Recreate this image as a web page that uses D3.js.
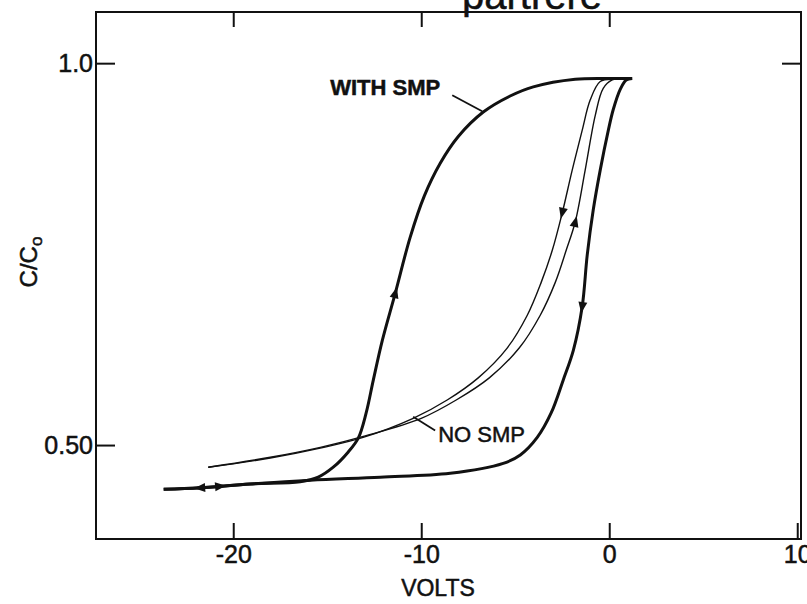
<!DOCTYPE html>
<html>
<head>
<meta charset="utf-8">
<script src="https://cdn.jsdelivr.net/npm/d3@7"></script>
<style>
  body { margin: 0; background: #fff; }
  text { font-family: "Liberation Sans", Arial, sans-serif; fill: #111; stroke: #111; stroke-width: 0.5px; }
</style>
</head>
<body>
<div id="chart"></div>
<script>
/* global d3 */

// Tick values and labels
const xTicks = [-20, -10, 0, 10]
const xTopTicks = [-20, -10, 0]
const yTicks = [0.5, 1.0]
const yTickLabels = ['0.50', '1.0']

// C/Co vs volts, [volts, C/Co], in sweep order
const withSmpDown = [[1.22, 0.980], [0.90, 0.978], [0.59, 0.966], [0.21, 0.939], [-0.05, 0.912],
  [-0.48, 0.860], [-0.85, 0.808], [-1.17, 0.749], [-1.44, 0.681], [-1.91, 0.624], [-2.45, 0.585],
  [-3.09, 0.542], [-3.83, 0.510], [-4.73, 0.487], [-5.64, 0.476], [-8.46, 0.463], [-12.18, 0.458],
  [-15.9, 0.454], [-19.1, 0.449], [-21.76, 0.444], [-23.7, 0.442]]
const withSmpUp = [[-23.7, 0.442], [-21.76, 0.444], [-19.1, 0.449], [-16.44, 0.452], [-15.48, 0.458],
  [-14.68, 0.471], [-13.88, 0.491], [-13.35, 0.509], [-12.93, 0.542], [-12.55, 0.585], [-12.07, 0.637],
  [-11.38, 0.699], [-10.59, 0.772], [-9.84, 0.826], [-8.99, 0.869], [-8.03, 0.904], [-6.70, 0.936],
  [-5.27, 0.957], [-4.04, 0.969], [-1.81, 0.979], [0.05, 0.980], [1.22, 0.980]]
const noSmpDown = [[0.16, 0.979], [-0.48, 0.976], [-1.01, 0.952], [-1.44, 0.912], [-1.97, 0.860],
  [-2.50, 0.804], [-3.03, 0.755], [-3.62, 0.713], [-4.36, 0.670], [-5.43, 0.627], [-6.97, 0.588],
  [-8.62, 0.559], [-10.43, 0.535], [-13.09, 0.510], [-15.37, 0.496], [-18.03, 0.483], [-21.33, 0.471]]
const noSmpUp = [[-21.33, 0.471], [-18.03, 0.484], [-15.37, 0.497], [-12.98, 0.512], [-10.0, 0.535],
  [-8.14, 0.559], [-6.38, 0.588], [-4.79, 0.627], [-3.67, 0.670], [-2.87, 0.713], [-2.29, 0.755],
  [-1.81, 0.792], [-1.28, 0.860], [-0.74, 0.932], [-0.32, 0.967], [0.16, 0.978], [0.69, 0.980]]

// Canvas
const width = 807,
  height = 604,
  plot = { left: 96, right: 801, top: 12, bottom: 539 }

let svg = d3.select('#chart')
  .append('svg')
  .attr('width', width)
  .attr('height', height)
  .style('background', '#fff')

const x = d3.scaleLinear().domain([-27.3, 10.2]).range([plot.left, plot.right])
const y = d3.scaleLinear().domain([0.377, 1.067]).range([plot.bottom, plot.top])

// cut-off heading from the scanned page
svg.append('text')
  .attr('x', 532).attr('y', 9)
  .attr('text-anchor', 'middle')
  .style('font-size', '40px')
  .text('partrere')

// Frame
svg.append('rect')
  .attr('x', plot.left).attr('y', plot.top)
  .attr('width', plot.right - plot.left).attr('height', plot.bottom - plot.top)
  .attr('fill', 'none').attr('stroke', '#111').attr('stroke-width', 2)

// Axes (inward ticks)
let xAxis = svg.append('g')
  .attr('transform', `translate(0,${plot.bottom})`)
  .call(d3.axisBottom(x).tickValues(xTicks).tickSizeInner(-16).tickSizeOuter(0)
    .tickPadding(6).tickFormat(d => String(d)))
xAxis.selectAll('text').style('font-size', '25px')

let topAxis = svg.append('g')
  .attr('transform', `translate(0,${plot.top})`)
  .call(d3.axisTop(x).tickValues(xTopTicks).tickSizeInner(-15).tickSizeOuter(0).tickFormat(''))

let yAxis = svg.append('g')
  .attr('transform', `translate(${plot.left},0)`)
  .call(d3.axisLeft(y).tickValues(yTicks).tickSizeInner(-19).tickSizeOuter(0)
    .tickPadding(3).tickFormat((d, i) => yTickLabels[i]))
yAxis.selectAll('text').style('font-size', '25px')

let rightAxis = svg.append('g')
  .attr('transform', `translate(${plot.right},0)`)
  .call(d3.axisRight(y).tickValues([1.0]).tickSizeInner(-19).tickSizeOuter(0).tickFormat(''))

;[xAxis, topAxis, yAxis, rightAxis].forEach(g => {
  g.select('.domain').remove()
  g.selectAll('line').attr('stroke', '#111').attr('stroke-width', 2)
  g.selectAll('text').attr('fill', '#111')
})

// Axis titles
svg.append('text')
  .attr('x', 438).attr('y', 596)
  .attr('text-anchor', 'middle')
  .style('font-size', '23px')
  .text('VOLTS')

let yTitle = svg.append('text')
  .attr('transform', 'translate(37,262) rotate(-90)')
  .attr('text-anchor', 'middle')
  .style('font-size', '24px')
yTitle.append('tspan').text('C/C')
yTitle.append('tspan').attr('dy', 5).style('font-size', '17px').text('o')

// Curves
let line = d3.line()
  .x(d => x(d[0]))
  .y(d => y(d[1]))
  .curve(d3.curveCatmullRom.alpha(0.5))

let branches = [
  { data: withSmpDown, w: 3 },
  { data: withSmpUp, w: 3 },
  { data: noSmpDown, w: 1.4 },
  { data: noSmpUp, w: 1.4 }
]
let paths = branches.map(b => svg.append('path')
  .attr('d', line(b.data))
  .attr('fill', 'none')
  .attr('stroke', '#111')
  .attr('stroke-width', b.w)
  .attr('stroke-linejoin', 'round')
  .node())

// Direction arrows: [branch index, volts, C/Co]
const arrows = [[0, -1.44, 0.681], [0, -21.76, 0.444], [1, -20.7, 0.446],
  [1, -11.38, 0.699], [2, -2.50, 0.804], [3, -1.81, 0.792]]

arrows.forEach(([b, v, c]) => {
  let node = paths[b]
  let total = node.getTotalLength()
  let tx = x(v), ty = y(c), best = 0, bestD = Infinity
  for (let l = 0; l <= total; l += 0.5) {
    let p = node.getPointAtLength(l)
    let dd = (p.x - tx) ** 2 + (p.y - ty) ** 2
    if (dd < bestD) { bestD = dd; best = l }
  }
  let p0 = node.getPointAtLength(Math.max(0, best - 3))
  let p1 = node.getPointAtLength(Math.min(total, best + 3))
  let pc = node.getPointAtLength(best)
  let ang = Math.atan2(p1.y - p0.y, p1.x - p0.x) * 180 / Math.PI
  svg.append('path')
    .attr('d', 'M6,0L-5,-4.5L-5,4.5Z')
    .attr('fill', '#111')
    .attr('transform', `translate(${pc.x},${pc.y}) rotate(${ang})`)
})

// Annotations
const withSmpLabel = [-14.84, 0.958]
const withSmpLeader = [[-8.35, 0.958], [-6.76, 0.937]]
const noSmpLabel = [-9.10, 0.504]
const noSmpLeader = [[-9.26, 0.519], [-10.43, 0.537]]

svg.append('text')
  .attr('x', x(withSmpLabel[0])).attr('y', y(withSmpLabel[1]))
  .style('font-size', '22px').style('font-weight', 'bold')
  .text('WITH SMP')
svg.append('text')
  .attr('x', x(noSmpLabel[0])).attr('y', y(noSmpLabel[1]))
  .style('font-size', '22px')
  .text('NO SMP')

;[withSmpLeader, noSmpLeader].forEach(l => {
  svg.append('line')
    .attr('x1', x(l[0][0])).attr('y1', y(l[0][1]))
    .attr('x2', x(l[1][0])).attr('y2', y(l[1][1]))
    .attr('stroke', '#111').attr('stroke-width', 1.8)
})
</script>
</body>
</html>
